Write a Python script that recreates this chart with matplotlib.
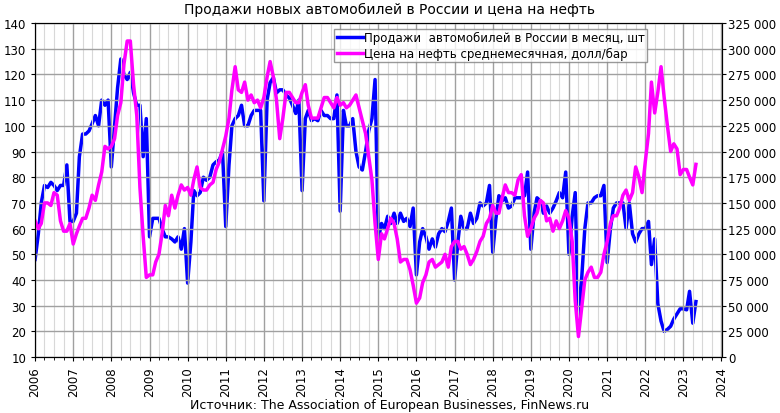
import numpy as np
import pandas as pd
import matplotlib.pyplot as plt
import matplotlib.dates as mdates
from matplotlib.ticker import FuncFormatter, MultipleLocator

# продажи автомобилей, тыс. шт в месяц (2006-01 ... 2023-05)
sales_k = [
    95, 120, 150, 167, 165, 170, 167, 162, 167, 167, 187, 132,
    132, 140, 195, 217, 217, 220, 227, 235, 225, 250, 245, 250,
    185, 225, 262, 290, 275, 270, 277, 257, 245, 245, 195, 232,
    117, 135, 135, 135, 125, 117, 117, 115, 112, 117, 105, 125,
    72, 112, 162, 157, 160, 175, 172, 175, 187, 190, 192, 200,
    127, 187, 225, 232, 235, 245, 225, 225, 235, 240, 240, 240,
    152, 250, 267, 272, 257, 260, 260, 255, 252, 245, 237, 250,
    162, 232, 240, 230, 232, 230, 240, 235, 235, 232, 232, 255,
    142, 240, 225, 225, 232, 200, 185, 182, 200, 220, 232, 270,
    115, 130, 125, 137, 130, 140, 130, 140, 132, 135, 127, 145,
    80, 112, 125, 117, 105, 115, 107, 120, 125, 122, 132, 145,
    75, 112, 137, 125, 125, 140, 130, 135, 150, 147, 150, 167,
    102, 135, 157, 152, 155, 145, 147, 155, 155, 155, 157, 180,
    105, 140, 155, 152, 140, 147, 140, 145, 152, 160, 155, 180,
    100, 137, 160, 32, 75, 125, 150, 150, 155, 157, 157, 167,
    92, 125, 145, 150, 150, 150, 125, 150, 120, 112, 120, 125,
    125, 132, 90, 115, 52, 35, 25, 27, 30, 37, 42, 47,
    47, 46, 64, 33, 54,
]
# цена на нефть, долл/бар
oil = [
    63, 60, 62, 70, 70, 69, 74, 73, 63, 59, 59, 62,
    54, 58, 61, 64, 64, 68, 73, 71, 77, 82, 92, 91,
    92, 95, 104, 109, 124, 133, 133, 116, 104, 76, 57, 41,
    42, 42, 47, 50, 58, 69, 65, 73, 68, 73, 77, 75,
    76, 73, 79, 84, 76, 75, 75, 77, 78, 83, 86, 91,
    96, 103, 114, 123, 114, 113, 117, 110, 112, 109, 110, 107,
    111, 119, 125, 119, 110, 95, 103, 113, 113, 111, 109, 109,
    113, 116, 108, 103, 103, 103, 107, 111, 111, 109, 107, 111,
    108, 109, 107, 108, 110, 112, 107, 102, 97, 88, 79, 62,
    48, 58, 56, 60, 64, 62, 56, 47, 48, 48, 44, 38,
    31, 33, 39, 42, 47, 48, 45, 46, 47, 50, 45, 53,
    55, 55, 52, 53, 50, 46, 48, 51, 55, 57, 62, 64,
    69, 66, 66, 72, 77, 74, 74, 73, 79, 81, 65, 57,
    60, 64, 66, 71, 70, 63, 64, 59, 63, 60, 63, 67,
    64, 55, 32, 18, 29, 40, 43, 45, 41, 41, 43, 50,
    55, 62, 65, 65, 68, 73, 75, 71, 74, 84, 80, 74,
    86, 97, 117, 105, 113, 123, 111, 100, 90, 93, 91, 81,
    83, 83, 80, 77, 85,
]
dates = pd.date_range("2006-01-01", periods=len(oil), freq="MS")

fig = plt.figure(figsize=(7.8, 4.14), dpi=100)
ax = fig.add_axes([0.045, 0.135, 0.88, 0.807])
ax2 = ax.twinx()

ax.set_xlim(pd.Timestamp("2006-01-01"), pd.Timestamp("2024-01-01"))
ax.set_ylim(10, 140)
ax2.set_ylim(0, 325000)
ax.yaxis.set_major_locator(MultipleLocator(10))
ax2.yaxis.set_major_locator(MultipleLocator(25000))
ax2.yaxis.set_major_formatter(FuncFormatter(lambda v, p: f"{int(v):,}".replace(",", " ")))

ax.xaxis.set_major_locator(mdates.YearLocator())
ax.xaxis.set_major_formatter(mdates.DateFormatter("%Y"))
ax.xaxis.set_minor_locator(mdates.MonthLocator(bymonth=[4, 7, 10]))
ax.grid(True, which="major", color="#a0a0a0", lw=1)
ax.grid(True, which="minor", axis="x", color="#d8d8d8", lw=0.8)
ax.set_axisbelow(True)
for lab in ax.get_xticklabels():
    lab.set_rotation(90)
ax.tick_params(labelsize=8.5, length=3)
ax2.tick_params(labelsize=8.5, length=3, pad=2)

l1, = ax2.plot(dates, np.array(sales_k) * 1000, color="#0000ff", lw=2.5,
               label="Продажи  автомобилей в России в месяц, шт")
l2, = ax.plot(dates, oil, color="#ff00ff", lw=2.5,
              label="Цена на нефть среднемесячная, долл/бар")
ax.set_zorder(ax2.get_zorder() + 1)
ax.patch.set_visible(False)

leg = ax.legend(handles=[l1, l2], loc="upper right", bbox_to_anchor=(0.9, 1.0),
                fontsize=8.5, frameon=True, fancybox=False, borderpad=0.2,
                handlelength=2.2, handletextpad=0.1, labelspacing=0.2)
leg.get_frame().set_edgecolor("#808080")

fig.text(0.5, 0.965, "Продажи новых автомобилей в России и цена на нефть",
         ha="center", fontsize=10)
fig.text(0.5, 0.012, "Источник: The Association of European Businesses, FinNews.ru",
         ha="center", fontsize=9)

fig.savefig("out.png", dpi=100)
